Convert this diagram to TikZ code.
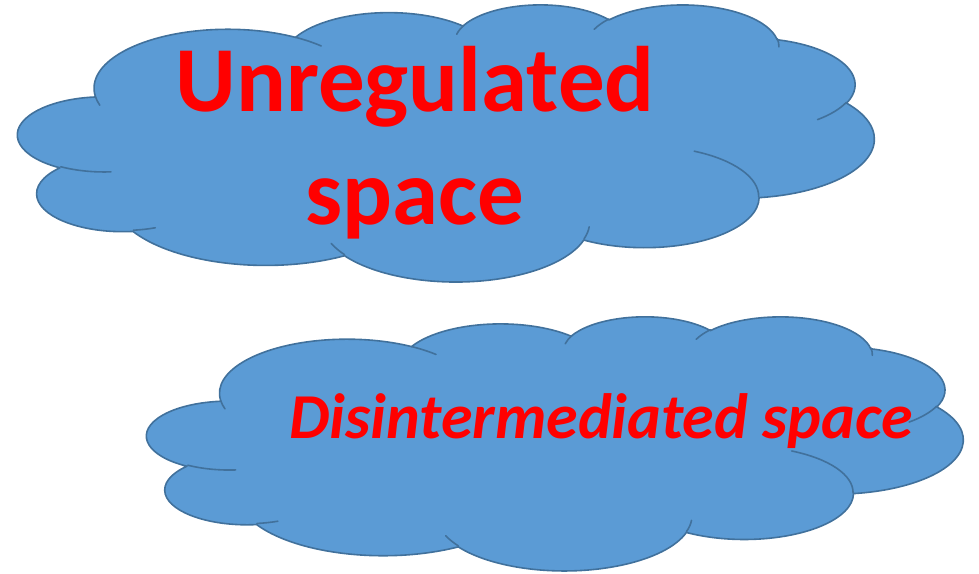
\documentclass[tikz,border=0pt]{standalone}
\usepackage{fontspec}
\setmainfont{Carlito}
\definecolor{cloudfill}{HTML}{5B9BD5}
\definecolor{cloudline}{HTML}{41719C}
\definecolor{txtred}{HTML}{FF0000}
\tikzset{
  cloudshape/.style={fill=cloudfill, draw=cloudline, line width=1.6pt, line join=round},
  cloudinner/.style={draw=cloudline, line width=1.6pt, line cap=round},
  bigtxt/.style={text=txtred, font=\fontsize{93}{112}\selectfont\bfseries, inner sep=0pt, anchor=base},
  midtxt/.style={text=txtred, font=\fontsize{64}{77}\selectfont\bfseries\itshape, inner sep=0pt, anchor=base},
}
\newcommand\drawcloud{%
  \path[cloudshape] (3.9,14.37)
    \foreach \w/\h/\s/\d in {
      6.753/9.190/-190.4874833/123.7805333,
      5.333/7.267/-144.1023833/89.9452333,
      4.365/5.945/-145.8079167/99.7230167,
      4.857/6.595/-130.9860667/117.2417333,
      5.333/7.273/-78.7088833/109.0269167,
      6.775/9.220/-46.26725/130.269,
      5.785/7.867/0.6250167/114.0333333,
      6.752/9.215/22.4516/115.17255,
      7.720/10.543/66.2426333/75.7110167,
      4.360/5.918/-274.9420833/146.7355667,
      4.345/5.945/-246.8285/152.51885}{
      arc[x radius=\w, y radius=\h,
          start angle={atan2(\w*sin(\s),\h*cos(\s))},
          delta angle={atan2(\w*sin(\s+\d),\h*cos(\s+\d)) - atan2(\w*sin(\s),\h*cos(\s)) - 360*round((atan2(\w*sin(\s+\d),\h*cos(\s+\d)) - atan2(\w*sin(\s),\h*cos(\s)) - \d)/360)}]
    } -- cycle;
  \foreach \px/\py/\w/\h/\s/\d in {
      4.693/26.177/4.345/5.945/86.742/26.4295,
      6.928/34.899/4.360/5.918/73.6104667/11.4474667,
      16.478/39.090/6.752/9.215/137.62415/14.0811,
      28.827/34.751/6.752/9.215/6.4532667/15.99835,
      34.129/22.954/5.785/7.867/-70.29235/70.9173667,
      41.798/15.354/5.333/7.273/30.3180333/27.7515,
      38.324/5.426/4.857/6.595/-13.7443333/14.8589,
      29.078/3.952/4.857/6.595/-149.18145/18.1953667,
      22.141/4.720/4.365/5.945/-163.4942667/17.68635,
      14.000/5.192/6.753/9.190/-66.70695/12.31935,
      4.127/15.789/6.753/9.190/157.65435/11.8581667}{
    \draw[cloudinner] (\px,\py)
      arc[x radius=\w, y radius=\h,
          start angle={atan2(\w*sin(\s),\h*cos(\s))},
          delta angle={atan2(\w*sin(\s+\d),\h*cos(\s+\d)) - atan2(\w*sin(\s),\h*cos(\s)) - 360*round((atan2(\w*sin(\s+\d),\h*cos(\s+\d)) - atan2(\w*sin(\s),\h*cos(\s)) - \d)/360)}];
  }%
}
\begin{document}
\begin{tikzpicture}[x=1pt, y=-1pt]
  \useasboundingbox (0,0) rectangle (979,573);
  \begin{scope}[shift={(18,4)}, x=19.815pt, y=-6.412pt]
    \drawcloud
  \end{scope}
  \begin{scope}[shift={(147,316)}, x=18.889pt, y=-5.880pt]
    \drawcloud
  \end{scope}
  \node[bigtxt] (u1) at (415,111) {Unregulated};
  \node[bigtxt] (u2) at (415,224) {space};
  \node[midtxt] (d1) at (601,438) {Disintermediated space};
\end{tikzpicture}
\end{document}
